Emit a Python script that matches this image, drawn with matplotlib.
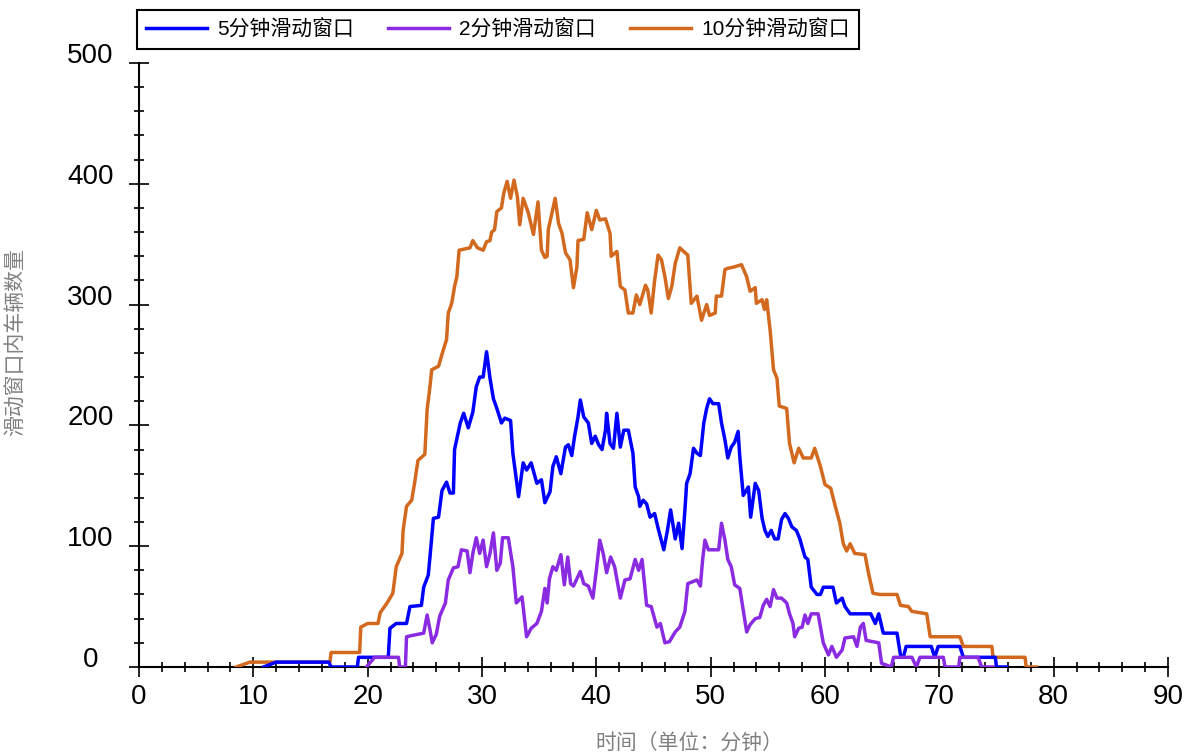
import matplotlib
matplotlib.use("Agg")
from matplotlib import pyplot as plt
from matplotlib.ticker import MultipleLocator

plt.rcParams['font.family'] = ['Liberation Sans', 'Noto Sans CJK SC', 'DejaVu Sans']

# series labels / axis titles
series_names = ['5分钟滑动窗口', '2分钟滑动窗口', '10分钟滑动窗口']
x_title = '时间（单位：分钟）'
y_title = '滑动窗口内车辆数量'

# 5 minute window
blue_x = [10.9, 12.0, 16.6, 16.8, 19.1, 19.2, 21.8, 21.95, 22.5, 23.4, 23.7, 24.7, 24.9, 25.3, 25.45,
          25.75, 26.2, 26.5, 26.9, 27.2, 27.5, 27.6, 28.1, 28.4, 28.8, 29.2, 29.5, 29.8, 30.1, 30.4,
          30.7, 31.0, 31.3, 31.7, 32.0, 32.5, 32.7, 33.2, 33.6, 33.9, 34.3, 34.8, 35.2, 35.5, 35.95,
          36.2, 36.5, 36.9, 37.3, 37.55, 37.85, 38.1, 38.4, 38.6, 38.9, 39.3, 39.6, 39.9, 40.2, 40.5,
          40.8, 40.9, 41.2, 41.5, 41.8, 42.1, 42.4, 42.8, 43.2, 43.4, 43.7, 43.8, 44.1, 44.4, 44.7,
          45.1, 45.4, 45.9, 46.2, 46.5, 46.9, 47.2, 47.5, 47.75, 47.9, 48.2, 48.5, 48.8, 49.1, 49.4,
          49.65, 49.9, 50.2, 50.7, 50.95, 51.25, 51.5, 51.8, 52.1, 52.4, 52.55, 52.85, 53.3, 53.5, 53.9,
          54.2, 54.5, 54.75, 55.0, 55.3, 55.6, 55.9, 56.2, 56.5, 56.8, 57.1, 57.5, 57.8, 58.25, 58.5,
          58.8, 59.3, 59.6, 59.85, 60.7, 61.0, 61.5, 61.75, 62.2, 64.0, 64.4, 64.7, 65.1, 66.3, 66.6,
          66.85, 67.1, 69.3, 69.6, 69.9, 71.8, 72.1, 74.9, 75.0, 75.9]
blue_y = [0, 4, 4, 0, 0, 8, 8, 32, 36, 36, 50, 51, 66, 76, 91,
          123, 124, 146, 153, 144, 144, 180, 202, 210, 198, 211, 232, 240, 240, 261,
          239, 222, 214, 202, 206, 204, 177, 141, 169, 163, 169, 152, 155, 136, 145,
          166, 174, 160, 182, 184, 175, 191, 207, 221, 207, 202, 185, 191, 184, 180,
          196, 210, 185, 181, 210, 182, 196, 196, 177, 149, 141, 133, 138, 135, 124,
          127, 115, 97, 112, 130, 106, 119, 98, 130, 152, 160, 181, 177, 175, 202,
          214, 222, 218, 218, 202, 188, 173, 182, 186, 195, 174, 142, 149, 124, 152,
          146, 123, 113, 108, 113, 106, 106, 122, 127, 123, 116, 113, 106, 91, 89,
          66, 60, 60, 66, 66, 53, 57, 50, 44, 44, 36, 44, 28, 28, 10,
          8, 17, 17, 8, 17, 17, 8, 8, 0, 0]

# 2 minute window
purple_x = [19.9, 20.6, 22.7, 22.8, 23.3, 23.4, 23.85, 24.9, 25.2, 25.45, 25.65, 26.0, 26.3, 26.8, 27.05,
            27.5, 27.9, 28.2, 28.7, 28.95, 29.2, 29.5, 29.8, 30.1, 30.4, 30.7, 31.0, 31.3, 31.6, 31.8,
            32.3, 32.7, 33.0, 33.5, 33.9, 34.3, 34.8, 35.2, 35.5, 35.7, 35.9, 36.2, 36.5, 36.9, 37.2,
            37.5, 37.75, 38.0, 38.6, 38.9, 39.3, 39.7, 40.0, 40.3, 40.6, 40.9, 41.25, 41.6, 42.1, 42.5,
            42.95, 43.4, 43.7, 44.0, 44.4, 44.8, 45.3, 45.6, 46.0, 46.4, 46.9, 47.3, 47.75, 48.0, 48.8,
            49.1, 49.3, 49.5, 49.8, 50.7, 50.95, 51.25, 51.5, 51.8, 52.1, 52.55, 52.85, 53.15, 53.45, 53.9,
            54.3, 54.6, 54.9, 55.2, 55.5, 55.8, 56.2, 56.65, 56.9, 57.2, 57.35, 57.7, 58.0, 58.25, 58.5,
            58.8, 59.4, 59.85, 60.3, 60.6, 61.0, 61.5, 61.75, 62.5, 62.8, 63.1, 63.35, 63.6, 64.7, 64.95,
            65.8, 66.0, 67.6, 68.0, 68.3, 70.35, 70.5, 71.7, 71.8, 73.4, 73.7, 74.7]
purple_y = [0, 8, 8, 0, 0, 25, 26, 28, 43, 31, 20, 27, 42, 53, 72,
            82, 83, 97, 96, 78, 94, 107, 94, 105, 83, 94, 111, 80, 86, 107,
            107, 83, 53, 58, 25, 32, 36, 46, 65, 53, 73, 83, 80, 93, 68,
            91, 69, 67, 79, 69, 67, 57, 80, 105, 94, 78, 91, 83, 57, 72,
            73, 89, 80, 89, 51, 50, 33, 36, 20, 21, 29, 33, 46, 69, 72,
            67, 89, 105, 97, 97, 119, 105, 89, 83, 68, 65, 47, 29, 35, 40,
            41, 51, 56, 50, 64, 57, 57, 53, 44, 36, 25, 32, 33, 43, 36,
            44, 44, 20, 10, 17, 8, 14, 24, 25, 17, 33, 36, 22, 20, 3,
            0, 8, 8, 0, 8, 8, 0, 0, 8, 8, 0, 0]

# 10 minute window
orange_x = [8.5, 9.7, 16.7, 16.8, 19.3, 19.4, 20.0, 20.9, 21.1, 21.7, 22.2, 22.5, 23.0, 23.1, 23.4,
            23.85, 24.1, 24.4, 25.0, 25.2, 25.45, 25.6, 26.2, 26.6, 26.9, 27.05, 27.35, 27.6, 27.8, 28.0,
            28.95, 29.2, 29.6, 30.1, 30.4, 30.7, 30.85, 31.1, 31.3, 31.7, 31.9, 32.2, 32.5, 32.8, 33.1,
            33.3, 33.6, 34.05, 34.5, 34.9, 35.2, 35.5, 35.7, 35.8, 36.4, 36.7, 37.0, 37.3, 37.7, 38.0,
            38.3, 38.4, 38.9, 39.2, 39.6, 40.0, 40.3, 40.8, 41.2, 41.3, 41.8, 42.1, 42.5, 42.8, 43.2,
            43.5, 43.8, 44.3, 44.5, 44.8, 45.1, 45.4, 45.7, 46.0, 46.3, 46.6, 46.9, 47.3, 47.75, 48.0,
            48.3, 48.8, 49.2, 49.65, 49.9, 50.4, 50.5, 50.95, 51.25, 51.5, 52.0, 52.7, 53.15, 53.45, 53.9,
            54.0, 54.5, 54.7, 54.9, 55.2, 55.5, 55.8, 56.0, 56.65, 56.9, 57.3, 57.7, 58.1, 58.8, 59.1,
            59.6, 60.0, 60.5, 60.9, 61.3, 61.6, 61.9, 62.2, 62.6, 63.5, 63.8, 64.2, 64.8, 66.3, 66.6,
            67.3, 67.6, 68.9, 69.2, 71.8, 72.1, 74.6, 74.7, 77.5, 77.6, 78.5]
orange_y = [0, 4, 4, 12, 12, 33, 36, 36, 45, 53, 61, 83, 94, 113, 133,
            138, 152, 171, 176, 213, 232, 246, 249, 262, 271, 293, 301, 315, 323, 345,
            347, 353, 347, 345, 352, 353, 360, 362, 377, 380, 392, 402, 388, 403, 389,
            366, 388, 376, 358, 385, 345, 339, 340, 362, 388, 367, 359, 343, 337, 314,
            331, 353, 354, 376, 362, 378, 370, 371, 359, 340, 344, 315, 312, 293, 293,
            308, 300, 316, 312, 293, 320, 341, 337, 323, 305, 315, 334, 347, 343, 341,
            301, 307, 287, 300, 291, 293, 307, 307, 329, 330, 331, 333, 323, 311, 314,
            301, 304, 296, 304, 279, 246, 239, 216, 214, 185, 169, 181, 173, 173, 181,
            166, 151, 148, 133, 119, 102, 96, 102, 94, 93, 78, 61, 60, 60, 51,
            50, 46, 44, 25, 25, 17, 17, 8, 8, 0, 0]

fig = plt.figure(figsize=(11.86, 7.55), dpi=100)
ax = fig.add_axes([0.1172, 0.1166, 0.8676, 0.8])

lw = 2.5
l1, = ax.plot(blue_x, blue_y, color='#0000ff', lw=lw, zorder=4)
l2, = ax.plot(purple_x, purple_y, color='#8a2be2', lw=lw, zorder=5)
l3, = ax.plot(orange_x, orange_y, color='#d2691e', lw=lw, zorder=3)

ax.set_xlim(0, 90)
ax.set_ylim(0, 500)
ax.xaxis.set_major_locator(MultipleLocator(10))
ax.xaxis.set_minor_locator(MultipleLocator(2))
ax.yaxis.set_major_locator(MultipleLocator(100))
ax.yaxis.set_minor_locator(MultipleLocator(20))

for s in ['top', 'right']:
    ax.spines[s].set_visible(False)
for s in ['left', 'bottom']:
    ax.spines[s].set_linewidth(1.5)

ax.tick_params(which='major', direction='inout', length=14, width=1.2, labelsize=20)
ax.tick_params(which='minor', direction='inout', length=7, width=1.2)
ax.tick_params(axis='x', which='major', pad=5)
ax.tick_params(axis='y', which='major', pad=28)

for t in ax.yaxis.get_major_ticks():
    t.label1.set_horizontalalignment('center')
    t.label1.set_verticalalignment('baseline')

ax.set_xlabel(x_title, fontsize=15, color='#808080')
ax.xaxis.set_label_coords(0.535, -0.1275)
ax.xaxis.label.set_verticalalignment('center')
ax.set_ylabel(y_title, fontsize=15, color='#808080')
ax.yaxis.set_label_coords(-0.1195, 0.538)
ax.yaxis.label.set_verticalalignment('center')

leg = fig.legend([l1, l2, l3], series_names, loc='upper left',
                 bbox_to_anchor=(137 / 1186, 1 - 10 / 755), bbox_transform=fig.transFigure,
                 ncol=3, fontsize=15, frameon=True, fancybox=False, borderaxespad=0,
                 handlelength=2.9, handletextpad=0.5, columnspacing=1.65, borderpad=0.45)
leg.get_frame().set_edgecolor('black')
leg.get_frame().set_linewidth(1.5)
leg.get_frame().set_alpha(1)

fig.savefig('out.png', dpi=100)
